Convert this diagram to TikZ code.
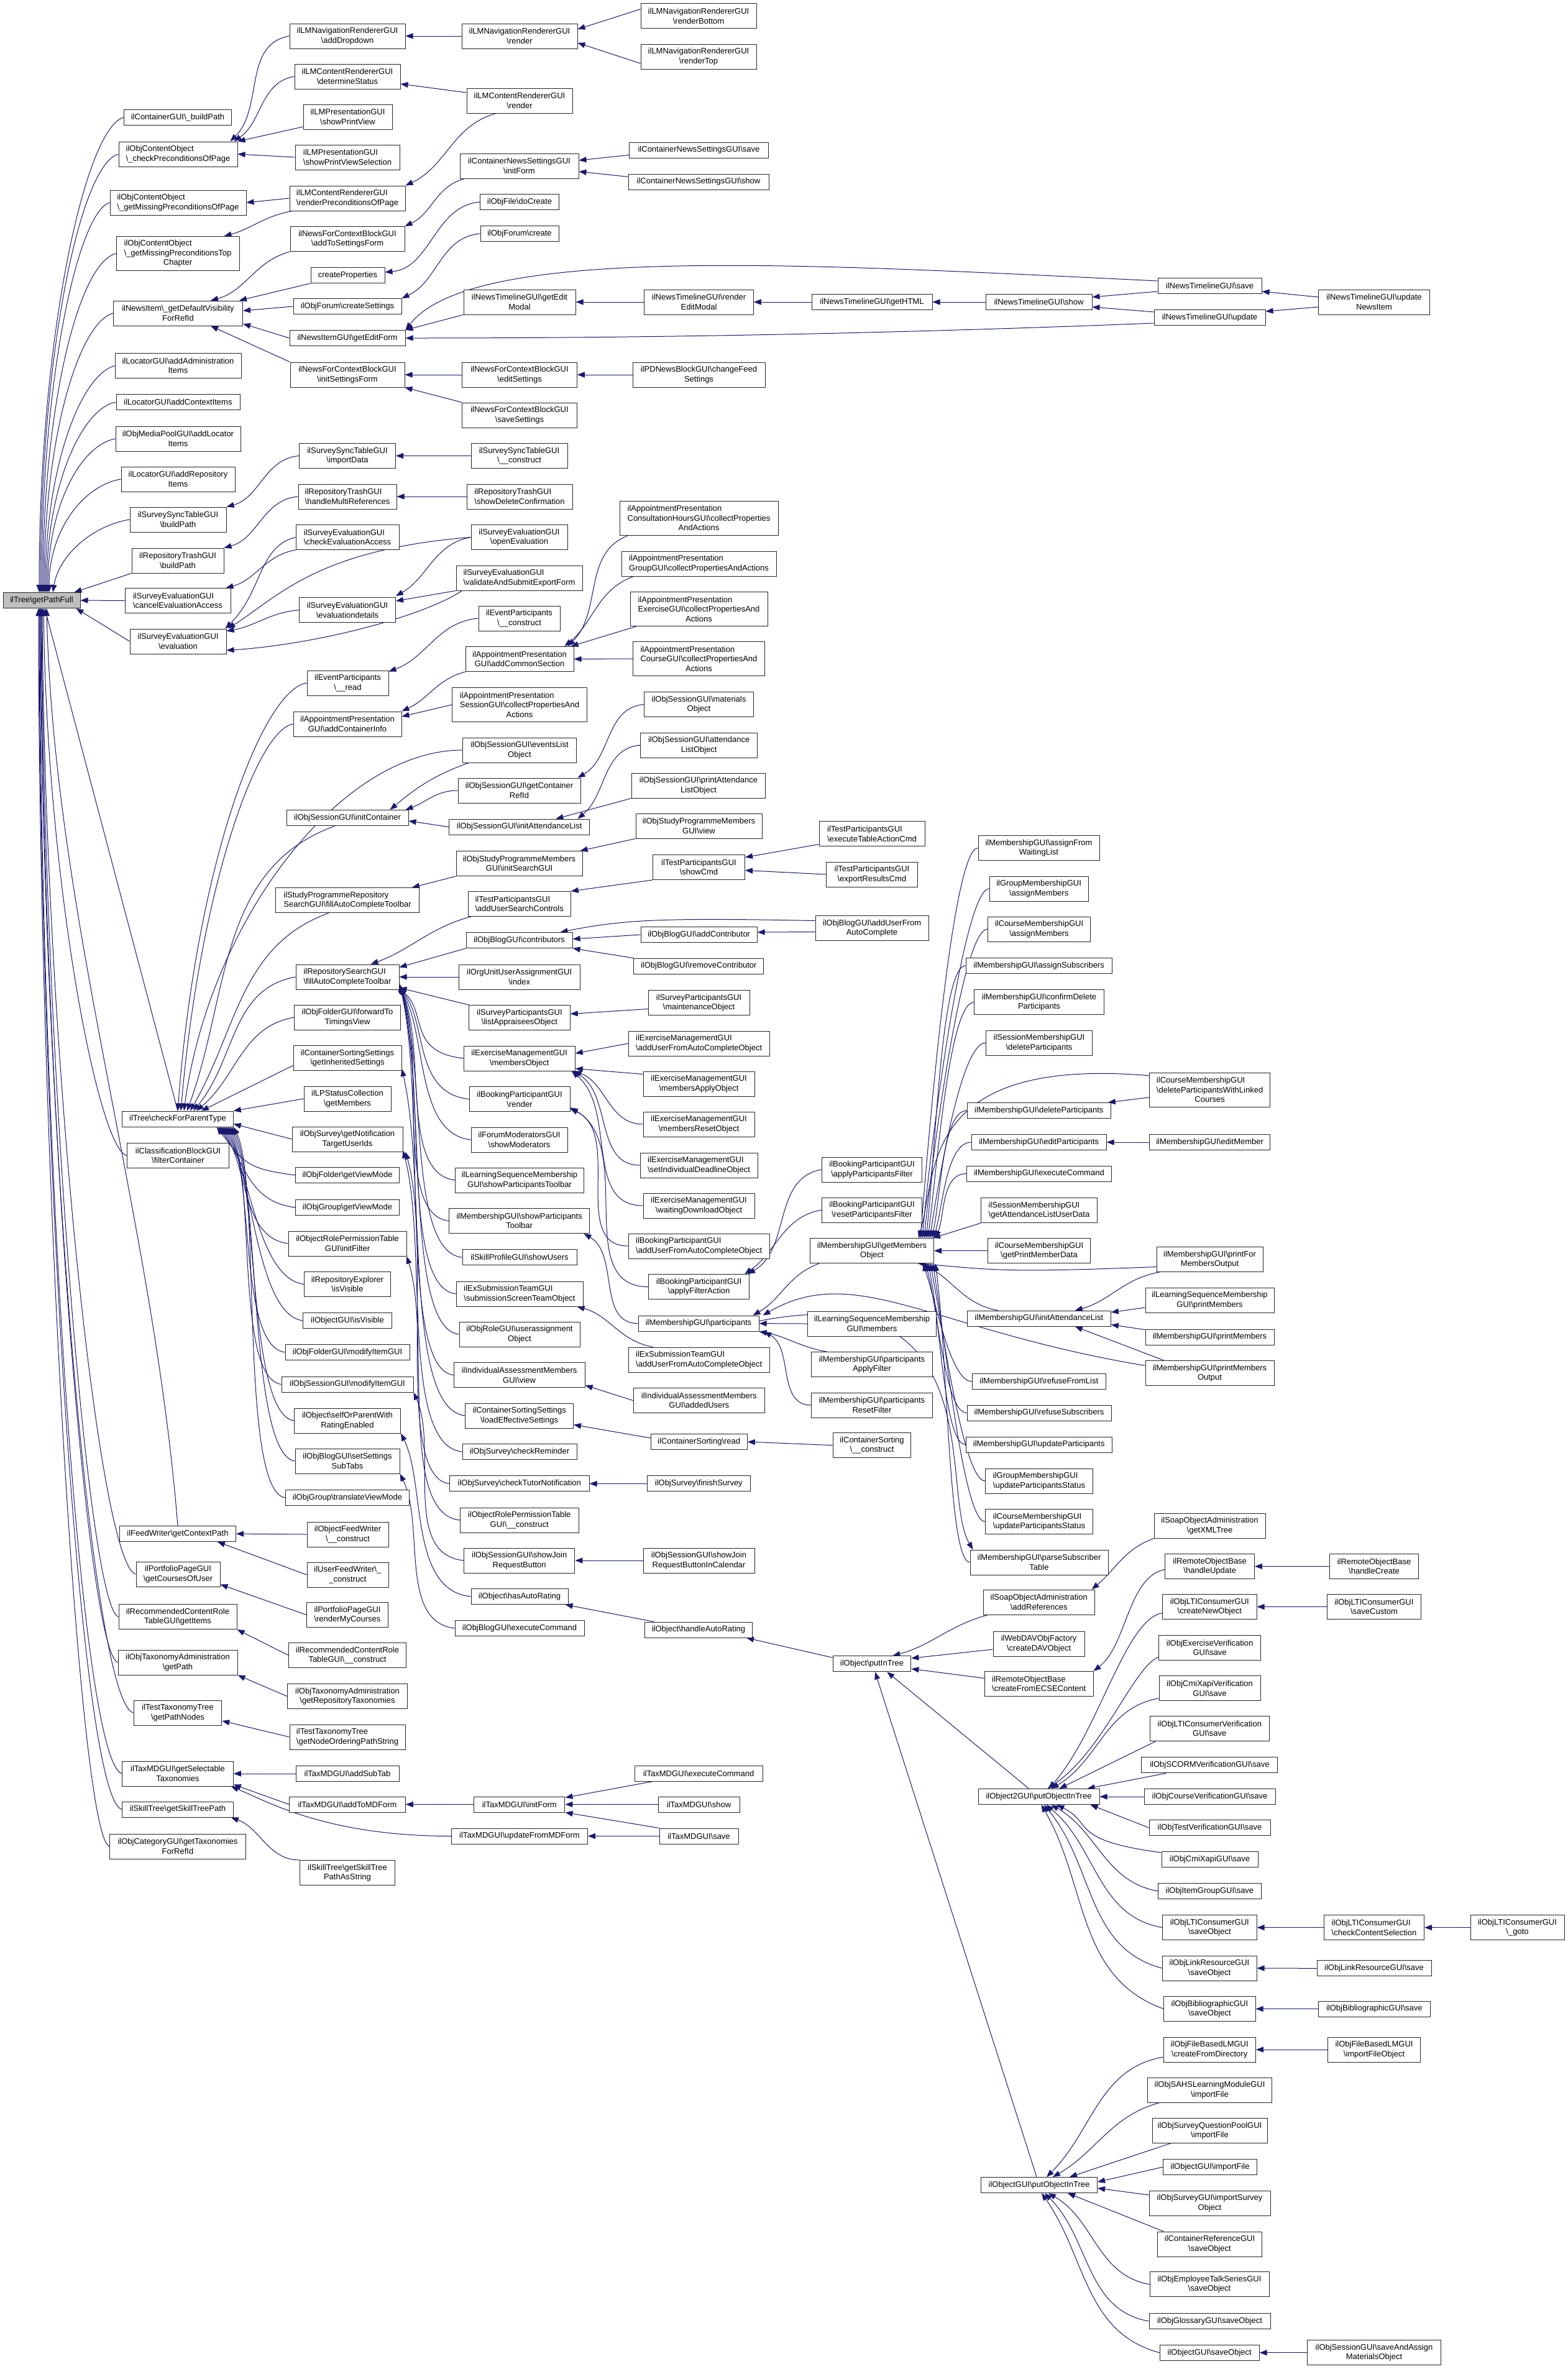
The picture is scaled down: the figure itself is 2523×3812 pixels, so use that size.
\documentclass[tikz,border=0pt]{standalone}
\usepackage{fontspec}
\setmainfont{Liberation Sans}
\usepackage{calc}
\usetikzlibrary{arrows.meta}
\definecolor{mblue}{HTML}{191970}
\definecolor{rootgray}{HTML}{BFBFBF}
\newcommand\bsl{\textbackslash}
\newcommand\lftl[2]{\makebox[\widthof{#2}][l]{#1}\\#2}
\newcommand\nodefont{\fontsize{13}{15.5}\selectfont}
\newcommand\ND[6]{\node[nd,#1,minimum width=#2pt] (#3) at (#4,#5) {#6};}
\newcommand\ED[2]{\draw[e] (#1.west) -- (#2.east);}
\pgfdeclarelayer{bg}
\pgfsetlayers{bg,main}
\tikzset{
 nd/.style={draw=black!85, line width=1pt, fill=white, font=\nodefont, inner xsep=1pt, inner ysep=0pt, align=center, minimum height=25pt, text=black},
 L2/.style={minimum height=40pt},
 L3/.style={minimum height=55pt},
 e/.style={draw=mblue, line width=1pt, -{Triangle[length=12pt,width=9pt]}},
}
\begin{document}
\begin{tikzpicture}[x=1pt,y=-1pt]
\useasboundingbox (0,0) rectangle (2523,3812);
% ---------- column 0
\ND{fill=rootgray}{124}{R}{67}{966}{ilTree\bsl getPathFull}
% ---------- column 1
\ND{}{173}{c1a}{286}{189}{ilContainerGUI\bsl\_buildPath}
\ND{L2}{191}{c1b}{286.5}{248}{\lftl{ilObjContentObject}{\bsl\_checkPreconditionsOfPage}}
\ND{L2}{219}{c1c}{286.5}{326}{\lftl{ilObjContentObject}{\bsl\_getMissingPreconditionsOfPage}}
\ND{L3}{198}{c1d}{286}{408}{\lftl{ilObjContentObject}{\bsl\_getMissingPreconditionsTop}\\Chapter}
\ND{L2}{208}{c1e}{286.5}{504}{ilNewsItem\bsl\_getDefaultVisibility\\ForRefId}
\ND{L2}{203}{c1f}{286.5}{588.5}{ilLocatorGUI\bsl addAdministration\\Items}
\ND{}{199}{c1g}{286.5}{647}{ilLocatorGUI\bsl addContextItems}
\ND{L2}{201}{c1h}{286.5}{706}{ilObjMediaPoolGUI\bsl addLocator\\Items}
\ND{L2}{183}{c1i}{286.5}{771}{ilLocatorGUI\bsl addRepository\\Items}
\ND{L2}{155}{c1j}{286.5}{836}{ilSurveySyncTableGUI\\\bsl buildPath}
\ND{L2}{148}{c1k}{286}{902}{ilRepositoryTrashGUI\\\bsl buildPath}
\ND{L2}{170}{c1l}{286}{966.5}{\lftl{ilSurveyEvaluationGUI}{\bsl cancelEvaluationAccess}}
\ND{L2}{155}{c1m}{286.5}{1032}{ilSurveyEvaluationGUI\\\bsl evaluation}
\ND{}{178.5}{c1n}{286}{1800.5}{ilTree\bsl checkForParentType}
\ND{L2}{164}{c1o}{286.5}{1859.5}{ilClassificationBlockGUI\\\bsl filterContainer}
\ND{}{187}{c1p}{286}{2468}{ilFeedWriter\bsl getContextPath}
\ND{L2}{135}{c1q}{286.5}{2533}{ilPortfolioPageGUI\\\bsl getCoursesOfUser}
\ND{L2}{190}{c1r}{286}{2601.5}{ilRecommendedContentRole\\TableGUI\bsl getItems}
\ND{L2}{192}{c1s}{286}{2675}{ilObjTaxonomyAdministration\\\bsl getPath}
\ND{L2}{141.6}{c1t}{286}{2756}{ilTestTaxonomyTree\\\bsl getPathNodes}
\ND{L2}{178.5}{c1u}{286}{2854}{ilTaxMDGUI\bsl getSelectable\\Taxonomies}
\ND{}{178.5}{c1v}{286}{2911.5}{ilSkillTree\bsl getSkillTreePath}
\ND{L2}{219}{c1w}{286}{2971}{ilObjCategoryGUI\bsl getTaxonomies\\ForRefId}
% ---------- column 2
\ND{L2}{186}{c2a}{559}{58}{ilLMNavigationRendererGUI\\\bsl addDropdown}
\ND{L2}{170}{c2b}{559}{123}{ilLMContentRendererGUI\\\bsl determineStatus}
\ND{L2}{143}{c2c}{559.5}{188}{ilLMPresentationGUI\\\bsl showPrintView}
\ND{L2}{168}{c2d}{559}{253}{\lftl{ilLMPresentationGUI}{\bsl showPrintViewSelection}}
\ND{L2}{186}{c2e}{559}{319}{\lftl{ilLMContentRendererGUI}{\bsl renderPreconditionsOfPage}}
\ND{L2}{184}{c2f}{559}{384.5}{ilNewsForContextBlockGUI\\\bsl addToSettingsForm}
\ND{}{119}{c2g}{559.5}{443}{createProperties}
\ND{}{174}{c2h}{559}{493}{ilObjForum\bsl createSettings}
\ND{}{186}{c2i}{559}{544}{ilNewsItemGUI\bsl getEditForm}
\ND{L2}{184}{c2j}{559}{603}{ilNewsForContextBlockGUI\\\bsl initSettingsForm}
\ND{L2}{155}{c2k}{559}{733.5}{ilSurveySyncTableGUI\\\bsl importData}
\ND{L2}{158}{c2l}{559}{799}{\lftl{ilRepositoryTrashGUI}{\bsl handleMultiReferences}}
\ND{L2}{166}{c2m}{559}{864.5}{\lftl{ilSurveyEvaluationGUI}{\bsl checkEvaluationAccess}}
\ND{L2}{155}{c2n}{559}{981.6}{ilSurveyEvaluationGUI\\\bsl evaluationdetails}
\ND{L2}{131}{c2o}{559.5}{1099}{ilEventParticipants\\\bsl\_\_read}
\ND{L2}{174}{c2p}{559}{1165}{ilAppointmentPresentation\\GUI\bsl addContainerInfo}
\ND{}{196}{c2q}{559}{1316}{ilObjSessionGUI\bsl initContainer}
\ND{L2}{231}{c2r}{559}{1448.6}{\lftl{ilStudyProgrammeRepository}{SearchGUI\bsl fillAutoCompleteToolbar}}
\ND{L2}{166}{c2s}{559}{1572}{\lftl{ilRepositorySearchGUI}{\bsl fillAutoCompleteToolbar}}
\ND{L2}{171}{c2t}{559}{1637}{ilObjFolderGUI\bsl forwardTo\\TimingsView}
\ND{L2}{174}{c2u}{559}{1702.5}{ilContainerSortingSettings\\\bsl getInheritedSettings}
\ND{L2}{140}{c2v}{559}{1768}{ilLPStatusCollection\\\bsl getMembers}
\ND{L2}{178}{c2w}{559}{1833}{ilObjSurvey\bsl getNotification\\TargetUserIds}
\ND{}{167}{c2x}{559}{1891}{ilObjFolder\bsl getViewMode}
\ND{}{167}{c2y}{559}{1943}{ilObjGroup\bsl getViewMode}
\ND{L2}{190}{c2z}{559}{2001}{ilObjectRolePermissionTable\\GUI\bsl initFilter}
\ND{L2}{139}{c2A}{559}{2066.5}{ilRepositoryExplorer\\\bsl isVisible}
\ND{}{143}{c2B}{559}{2125}{ilObjectGUI\bsl isVisible}
\ND{}{200}{c2C}{559}{2176}{ilObjFolderGUI\bsl modifyItemGUI}
\ND{}{212}{c2D}{559}{2227.5}{ilObjSessionGUI\bsl modifyItemGUI}
\ND{L2}{171}{c2E}{559}{2286}{ilObject\bsl selfOrParentWith\\RatingEnabled}
\ND{L2}{168}{c2F}{559}{2351}{ilObjBlogGUI\bsl setSettings\\SubTabs}
\ND{}{199}{c2G}{559}{2410}{ilObjGroup\bsl translateViewMode}
\ND{L2}{131}{c2H}{559.5}{2469}{ilObjectFeedWriter\\\bsl\_\_construct}
\ND{L2}{131}{c2I}{559.5}{2534}{ilUserFeedWriter\bsl\_\\\_construct}
\ND{L2}{131}{c2J}{559}{2598.5}{ilPortfolioPageGUI\\\bsl renderMyCourses}
\ND{L2}{189}{c2K}{559}{2663.5}{ilRecommendedContentRole\\TableGUI\bsl\_\_construct}
\ND{L2}{193}{c2L}{559}{2729.5}{ilObjTaxonomyAdministration\\\bsl getRepositoryTaxonomies}
\ND{L2}{186}{c2M}{559}{2795}{\lftl{ilTestTaxonomyTree}{\bsl getNodeOrderingPathString}}
\ND{}{166}{c2N}{559}{2854}{ilTaxMDGUI\bsl addSubTab}
\ND{}{186.6}{c2O}{559}{2903.5}{ilTaxMDGUI\bsl addToMDForm}
\ND{L2}{152.6}{c2P}{559}{3013.5}{ilSkillTree\bsl getSkillTree\\PathAsString}
% ---------- column 3
\ND{L2}{186}{c3a}{836}{58}{ilLMNavigationRendererGUI\\\bsl render}
\ND{L2}{170}{c3b}{836}{162}{ilLMContentRendererGUI\\\bsl render}
\ND{L2}{191}{c3c}{835.5}{267}{ilContainerNewsSettingsGUI\\\bsl initForm}
\ND{}{126.5}{c3d}{836}{325}{ilObjFile\bsl doCreate}
\ND{}{126}{c3e}{836}{376}{ilObjForum\bsl create}
\ND{L2}{180}{c3f}{836}{486}{ilNewsTimelineGUI\bsl getEdit\\Modal}
\ND{L2}{184.5}{c3g}{836}{603}{ilNewsForContextBlockGUI\\\bsl editSettings}
\ND{L2}{184.5}{c3h}{836}{668}{ilNewsForContextBlockGUI\\\bsl saveSettings}
\ND{L2}{155}{c3i}{835.5}{733.5}{ilSurveySyncTableGUI\\\bsl\_\_construct}
\ND{L2}{170}{c3j}{836}{799}{\lftl{ilRepositoryTrashGUI}{\bsl showDeleteConfirmation}}
\ND{L2}{155}{c3k}{835.5}{864.5}{ilSurveyEvaluationGUI\\\bsl openEvaluation}
\ND{L2}{203}{c3l}{835.5}{930}{\lftl{ilSurveyEvaluationGUI}{\bsl validateAndSubmitExportForm}}
\ND{L2}{131}{c3m}{835.5}{995}{ilEventParticipants\\\bsl\_\_construct}
\ND{L2}{174}{c3n}{836}{1060.5}{ilAppointmentPresentation\\GUI\bsl addCommonSection}
\ND{L3}{217}{c3o}{836}{1134}{\lftl{ilAppointmentPresentation}{SessionGUI\bsl collectPropertiesAnd}\\Actions}
\ND{L2}{183}{c3p}{836}{1207}{ilObjSessionGUI\bsl eventsList\\Object}
\ND{L2}{197}{c3q}{835.5}{1272}{ilObjSessionGUI\bsl getContainer\\RefId}
\ND{}{226.5}{c3r}{835.7}{1330.6}{ilObjSessionGUI\bsl initAttendanceList}
\ND{L2}{203}{c3s}{835.5}{1389.5}{ilObjStudyProgrammeMembers\\GUI\bsl initSearchGUI}
\ND{L2}{165}{c3t}{835.7}{1454.5}{\lftl{ilTestParticipantsGUI}{\bsl addUserSearchControls}}
\ND{}{171}{c3u}{835.6}{1513}{ilObjBlogGUI\bsl contributors}
\ND{L2}{195}{c3v}{835.7}{1572}{ilOrgUnitUserAssignmentGUI\\\bsl index}
\ND{L2}{162.4}{c3w}{836}{1637.5}{ilSurveyParticipantsGUI\\\bsl listAppraiseesObject}
\ND{L2}{179}{c3x}{835.7}{1703}{ilExerciseManagementGUI\\\bsl membersObject}
\ND{L2}{162}{c3y}{836}{1768.6}{ilBookingParticipantGUI\\\bsl render}
\ND{L2}{155}{c3z}{835.5}{1834}{ilForumModeratorsGUI\\\bsl showModerators}
\ND{L2}{206.5}{c3A}{836}{1899}{ilLearningSequenceMembership\\GUI\bsl showParticipantsToolbar}
\ND{L2}{226.5}{c3B}{835.7}{1964.5}{ilMembershipGUI\bsl showParticipants\\Toolbar}
\ND{}{184}{c3C}{836}{2023.3}{ilSkillProfileGUI\bsl showUsers}
\ND{L2}{204}{c3D}{836}{2082}{\lftl{ilExSubmissionTeamGUI}{\bsl submissionScreenTeamObject}}
\ND{L2}{194}{c3E}{836}{2147}{ilObjRoleGUI\bsl userassignment\\Object}
\ND{L2}{211}{c3F}{835.6}{2212.6}{ilIndividualAssessmentMembers\\GUI\bsl view}
\ND{L2}{173.5}{c3G}{835.7}{2278}{ilContainerSortingSettings\\\bsl loadEffectiveSettings}
\ND{}{184}{c3H}{836}{2336}{ilObjSurvey\bsl checkReminder}
\ND{}{224.5}{c3I}{835.8}{2387.4}{ilObjSurvey\bsl checkTutorNotification}
\ND{L2}{190.6}{c3J}{835.7}{2446}{ilObjectRolePermissionTable\\GUI\bsl\_\_construct}
\ND{L2}{178.4}{c3K}{835.7}{2511}{ilObjSessionGUI\bsl showJoin\\RequestButton}
\ND{}{156}{c3L}{836}{2569}{ilObject\bsl hasAutoRating}
\ND{}{208}{c3M}{836}{2620}{ilObjBlogGUI\bsl executeCommand}
\ND{}{146.5}{c3N}{835.7}{2903.5}{ilTaxMDGUI\bsl initForm}
\ND{}{219}{c3O}{836}{2954.5}{ilTaxMDGUI\bsl updateFromMDForm}
% ---------- column 4
\ND{L2}{186}{c4a}{1124}{25.7}{ilLMNavigationRendererGUI\\\bsl renderBottom}
\ND{L2}{186}{c4b}{1124}{91}{ilLMNavigationRendererGUI\\\bsl renderTop}
\ND{}{224}{c4c}{1124.5}{241.5}{ilContainerNewsSettingsGUI\bsl save}
\ND{}{226}{c4d}{1124}{292.5}{ilContainerNewsSettingsGUI\bsl show}
\ND{L2}{175.5}{c4e}{1124.5}{486}{ilNewsTimelineGUI\bsl render\\EditModal}
\ND{L2}{213}{c4f}{1124.5}{603}{ilPDNewsBlockGUI\bsl changeFeed\\Settings}
\ND{L3}{255}{c4g}{1124.5}{833.5}{\lftl{ilAppointmentPresentation}{ConsultationHoursGUI\bsl collectProperties}\\AndActions}
\ND{L2}{249}{c4h}{1124.5}{907}{\lftl{ilAppointmentPresentation}{GroupGUI\bsl collectPropertiesAndActions}}
\ND{L3}{221}{c4i}{1124.5}{980}{\lftl{ilAppointmentPresentation}{ExerciseGUI\bsl collectPropertiesAnd}\\Actions}
\ND{L3}{212}{c4j}{1124.5}{1060}{\lftl{ilAppointmentPresentation}{CourseGUI\bsl collectPropertiesAnd}\\Actions}
\ND{L2}{176}{c4k}{1124.5}{1133.5}{ilObjSessionGUI\bsl materials\\Object}
\ND{L2}{188}{c4l}{1124.7}{1199}{ilObjSessionGUI\bsl attendance\\ListObject}
\ND{L2}{215}{c4m}{1124}{1264}{ilObjSessionGUI\bsl printAttendance\\ListObject}
\ND{L2}{203}{c4n}{1124.5}{1329}{ilObjStudyProgrammeMembers\\GUI\bsl view}
\ND{L2}{148}{c4o}{1124.5}{1395.5}{ilTestParticipantsGUI\\\bsl showCmd}
\ND{}{187}{c4p}{1124.7}{1504}{ilObjBlogGUI\bsl addContributor}
\ND{}{209}{c4q}{1124.3}{1554.6}{ilObjBlogGUI\bsl removeContributor}
\ND{L2}{163}{c4r}{1124.5}{1613.5}{ilSurveyParticipantsGUI\\\bsl maintenanceObject}
\ND{L2}{227}{c4s}{1124.7}{1679}{\lftl{ilExerciseManagementGUI}{\bsl addUserFromAutoCompleteObject}}
\ND{L2}{179}{c4t}{1124.5}{1744}{ilExerciseManagementGUI\\\bsl membersApplyObject}
\ND{L2}{179}{c4u}{1124.5}{1809}{ilExerciseManagementGUI\\\bsl membersResetObject}
\ND{L2}{189}{c4v}{1124.5}{1875}{\lftl{ilExerciseManagementGUI}{\bsl setIndividualDeadlineObject}}
\ND{L2}{179}{c4w}{1124.5}{1940}{ilExerciseManagementGUI\\\bsl waitingDownloadObject}
\ND{L2}{227}{c4x}{1124.7}{2005}{\lftl{ilBookingParticipantGUI}{\bsl addUserFromAutoCompleteObject}}
\ND{L2}{162.5}{c4y}{1124.5}{2070.6}{ilBookingParticipantGUI\\\bsl applyFilterAction}
\ND{}{194}{c4z}{1124}{2129.6}{ilMembershipGUI\bsl participants}
\ND{L2}{227}{c4A}{1124.7}{2188}{\lftl{ilExSubmissionTeamGUI}{\bsl addUserFromAutoCompleteObject}}
\ND{L2}{211.4}{c4B}{1124.8}{2253.5}{ilIndividualAssessmentMembers\\GUI\bsl addedUsers}
\ND{}{155}{c4C}{1124.7}{2320}{ilContainerSorting\bsl read}
\ND{}{165.7}{c4D}{1124.3}{2387.4}{ilObjSurvey\bsl finishSurvey}
\ND{L2}{179}{c4E}{1124.5}{2511}{ilObjSessionGUI\bsl showJoin\\RequestButtonInCalendar}
\ND{}{173}{c4F}{1124}{2622.5}{ilObject\bsl handleAutoRating}
\ND{}{206}{c4G}{1124}{2853.5}{ilTaxMDGUI\bsl executeCommand}
\ND{}{131}{c4H}{1124.5}{2903.5}{ilTaxMDGUI\bsl show}
\ND{}{127}{c4I}{1124.5}{2954.5}{ilTaxMDGUI\bsl save}
% ---------- column 5
\ND{}{194}{c5a}{1403}{486}{ilNewsTimelineGUI\bsl getHTML}
\ND{L2}{170}{c5b}{1403}{1341.6}{\lftl{ilTestParticipantsGUI}{\bsl executeTableActionCmd}}
\ND{L2}{147.4}{c5c}{1403}{1407}{ilTestParticipantsGUI\\\bsl exportResultsCmd}
\ND{L2}{182}{c5d}{1403}{1493.5}{ilObjBlogGUI\bsl addUserFrom\\AutoComplete}
\ND{L2}{161.6}{c5e}{1403}{1882}{ilBookingParticipantGUI\\\bsl applyParticipantsFilter}
\ND{L2}{161.6}{c5f}{1403}{1947}{ilBookingParticipantGUI\\\bsl resetParticipantsFilter}
\ND{L2}{199}{c5g}{1403}{2012.6}{ilMembershipGUI\bsl getMembers\\Object}
\ND{L2}{207}{c5h}{1403}{2130}{ilLearningSequenceMembership\\GUI\bsl members}
\ND{L2}{194.7}{c5i}{1403}{2195.5}{ilMembershipGUI\bsl participants\\ApplyFilter}
\ND{L2}{194.7}{c5j}{1403}{2261}{ilMembershipGUI\bsl participants\\ResetFilter}
\ND{L2}{125.7}{c5k}{1403}{2325.6}{ilContainerSorting\\\bsl\_\_construct}
\ND{}{125.7}{c5l}{1403}{2677.3}{ilObject\bsl putInTree}
% ---------- column 6
\ND{}{171}{c6a}{1671.5}{486}{ilNewsTimelineGUI\bsl show}
\ND{L2}{195}{c6b}{1671.5}{1364.5}{ilMembershipGUI\bsl assignFrom\\WaitingList}
\ND{L2}{159}{c6c}{1671.6}{1430}{ilGroupMembershipGUI\\\bsl assignMembers}
\ND{L2}{165}{c6d}{1672}{1495}{ilCourseMembershipGUI\\\bsl assignMembers}
\ND{}{235}{c6e}{1671.7}{1553.7}{ilMembershipGUI\bsl assignSubscribers}
\ND{L2}{208.5}{c6f}{1672}{1612.7}{ilMembershipGUI\bsl confirmDelete\\Participants}
\ND{L2}{171}{c6g}{1672}{1678}{ilSessionMembershipGUI\\\bsl deleteParticipants}
\ND{}{231}{c6h}{1671.8}{1787}{ilMembershipGUI\bsl deleteParticipants}
\ND{}{217}{c6i}{1671.7}{1838}{ilMembershipGUI\bsl editParticipants}
\ND{}{233.5}{c6j}{1672}{1888.6}{ilMembershipGUI\bsl executeCommand}
\ND{L2}{187}{c6k}{1672}{1947.6}{\lftl{ilSessionMembershipGUI}{\bsl getAttendanceListUserData}}
\ND{L2}{165}{c6l}{1672}{2012.6}{ilCourseMembershipGUI\\\bsl getPrintMemberData}
\ND{}{231}{c6m}{1671.8}{2121.6}{ilMembershipGUI\bsl initAttendanceList}
\ND{}{214.7}{c6n}{1671.8}{2223}{ilMembershipGUI\bsl refuseFromList}
\ND{}{232}{c6o}{1672}{2273.5}{ilMembershipGUI\bsl refuseSubscribers}
\ND{}{235}{c6p}{1671.7}{2324.5}{ilMembershipGUI\bsl updateParticipants}
\ND{L2}{172.7}{c6q}{1672}{2383}{\lftl{ilGroupMembershipGUI}{\bsl updateParticipantsStatus}}
\ND{L2}{172.7}{c6r}{1672}{2448.6}{\lftl{ilCourseMembershipGUI}{\bsl updateParticipantsStatus}}
\ND{L2}{222}{c6s}{1672}{2514}{ilMembershipGUI\bsl parseSubscriber\\Table}
\ND{L2}{179}{c6t}{1671.7}{2578}{ilSoapObjectAdministration\\\bsl addReferences}
\ND{L2}{147}{c6u}{1671.6}{2645}{ilWebDAVObjFactory\\\bsl createDAVObject}
\ND{L2}{174.7}{c6v}{1671.7}{2709.5}{\lftl{ilRemoteObjectBase}{\bsl createFromECSEContent}}
\ND{}{195}{c6w}{1671.5}{2891}{ilObject2GUI\bsl putObjectInTree}
\ND{}{187}{c6x}{1672}{3516}{ilObjectGUI\bsl putObjectInTree}
% ---------- column 7
\ND{}{167}{c7a}{1946.5}{460}{ilNewsTimelineGUI\bsl save}
\ND{}{179}{c7b}{1946.5}{511}{ilNewsTimelineGUI\bsl update}
\ND{L3}{194.4}{c7c}{1946.6}{1753.8}{\lftl{ilCourseMembershipGUI}{\bsl deleteParticipantsWithLinked}\\Courses}
\ND{}{194.4}{c7d}{1946.6}{1838}{ilMembershipGUI\bsl editMember}
\ND{L2}{171}{c7e}{1946.5}{2026.5}{ilMembershipGUI\bsl printFor\\MembersOutput}
\ND{L2}{207}{c7f}{1946.5}{2092}{ilLearningSequenceMembership\\GUI\bsl printMembers}
\ND{}{207}{c7g}{1946.5}{2151.6}{ilMembershipGUI\bsl printMembers}
\ND{L2}{207}{c7h}{1946.5}{2209.4}{ilMembershipGUI\bsl printMembers\\Output}
\ND{L2}{179}{c7i}{1946.5}{2455}{ilSoapObjectAdministration\\\bsl getXMLTree}
\ND{L2}{143.5}{c7j}{1946.7}{2520.4}{ilRemoteObjectBase\\\bsl handleUpdate}
\ND{L2}{151.4}{c7k}{1946.3}{2585.5}{ilObjLTIConsumerGUI\\\bsl createNewObject}
\ND{L2}{164}{c7l}{1946.6}{2651.5}{ilObjExerciseVerification\\GUI\bsl save}
\ND{L2}{163}{c7m}{1946.5}{2716.8}{ilObjCmiXapiVerification\\GUI\bsl save}
\ND{L2}{192.6}{c7n}{1946.3}{2781.5}{ilObjLTIConsumerVerification\\GUI\bsl save}
\ND{}{219}{c7o}{1946.4}{2840.3}{ilObjSCORMVerificationGUI\bsl save}
\ND{}{211}{c7p}{1946.5}{2891}{ilObjCourseVerificationGUI\bsl save}
\ND{}{195}{c7q}{1946.5}{2941}{ilObjTestVerificationGUI\bsl save}
\ND{}{155}{c7r}{1946.5}{2992}{ilObjCmiXapiGUI\bsl save}
\ND{}{165.5}{c7s}{1946.4}{3043}{ilObjItemGroupGUI\bsl save}
\ND{L2}{151.4}{c7t}{1946.3}{3101.6}{ilObjLTIConsumerGUI\\\bsl saveObject}
\ND{L2}{152}{c7u}{1946}{3167}{ilObjLinkResourceGUI\\\bsl saveObject}
\ND{L2}{147.3}{c7v}{1946.4}{3232.5}{ilObjBibliographicGUI\\\bsl saveObject}
\ND{L2}{148.4}{c7w}{1946.2}{3298}{ilObjFileBasedLMGUI\\\bsl createFromDirectory}
\ND{L2}{200}{c7x}{1946.5}{3363}{ilObjSAHSLearningModuleGUI\\\bsl importFile}
\ND{L2}{185}{c7y}{1946.5}{3428.4}{ilObjSurveyQuestionPoolGUI\\\bsl importFile}
\ND{}{151}{c7z}{1947}{3487}{ilObjectGUI\bsl importFile}
\ND{L2}{195}{c7A}{1946.5}{3545}{ilObjSurveyGUI\bsl importSurvey\\Object}
\ND{L2}{168}{c7B}{1946.5}{3611}{ilContainerReferenceGUI\\\bsl saveObject}
\ND{L2}{192}{c7C}{1946}{3675.7}{ilObjEmployeeTalkSeriesGUI\\\bsl saveObject}
\ND{}{195}{c7D}{1946.5}{3735}{ilObjGlossaryGUI\bsl saveObject}
\ND{}{160}{c7E}{1946.2}{3785.7}{ilObjectGUI\bsl saveObject}
% ---------- column 8 / 9
\ND{L2}{179}{c8a}{2211}{486}{ilNewsTimelineGUI\bsl update\\NewsItem}
\ND{L2}{143}{c8b}{2211}{2520.4}{ilRemoteObjectBase\\\bsl handleCreate}
\ND{L2}{151.4}{c8c}{2211}{2585.5}{ilObjLTIConsumerGUI\\\bsl saveCustom}
\ND{L2}{161.3}{c8d}{2211}{3101.6}{\lftl{ilObjLTIConsumerGUI}{\bsl checkContentSelection}}
\ND{}{184}{c8e}{2211}{3167.3}{ilObjLinkResourceGUI\bsl save}
\ND{}{180}{c8f}{2211.3}{3232.5}{ilObjBibliographicGUI\bsl save}
\ND{L2}{148.6}{c8g}{2211}{3298}{ilObjFileBasedLMGUI\\\bsl importFileObject}
\ND{L2}{215}{c8h}{2211}{3785.7}{ilObjSessionGUI\bsl saveAndAssign\\MaterialsObject}
\ND{L2}{151}{c9a}{2441.5}{3101.6}{ilObjLTIConsumerGUI\\\bsl\_goto}

\begin{pgfonlayer}{bg}
% ===== into root
\draw[e] (c1a.west) .. controls +(-60,15) and +(0,-420) .. ([xshift=-4pt]R.north);
\draw[e] (c1b.west) .. controls +(-60,15) and +(0,-390) .. ([xshift=-2pt]R.north);
\draw[e] (c1c.west) .. controls +(-50,15) and +(0,-350) .. ([xshift=0pt]R.north);
\draw[e] (c1d.west) .. controls +(-60,15) and +(0,-300) .. ([xshift=2pt]R.north);
\draw[e] (c1e.west) .. controls +(-55,15) and +(0,-250) .. ([xshift=4pt]R.north);
\draw[e] (c1f.west) .. controls +(-55,15) and +(0,-200) .. ([xshift=6pt]R.north);
\draw[e] (c1g.west) .. controls +(-55,10) and +(0,-170) .. ([xshift=8pt]R.north);
\draw[e] (c1h.west) .. controls +(-55,10) and +(0,-140) .. ([xshift=10pt]R.north);
\draw[e] (c1i.west) .. controls +(-60,10) and +(0,-100) .. ([xshift=12pt]R.north);
\draw[e] (c1j.west) .. controls +(-60,10) and +(10,-60) .. ([xshift=18pt]R.north);
\draw[e] (c1k.south west) -- ([xshift=-10pt]R.north east);
\draw[e] (c1l.west) -- (R.east);
\draw[e] (c1m.west) -- ([xshift=-7pt]R.south east);
\draw[e] (c1n.north) -- ([xshift=5pt]R.south);
\draw[e] (c1o.west) .. controls +(-45,-10) and +(6,450) .. ([xshift=3pt]R.south);
\draw[e] (c1p.north) .. controls +(-40,-500) and +(12,500) .. ([xshift=8pt]R.south);
\draw[e] (c1q.west) .. controls +(-60,-15) and +(4,700) .. ([xshift=1pt]R.south);
\draw[e] (c1r.west) .. controls +(-50,-15) and +(3,700) .. ([xshift=0pt]R.south);
\draw[e] (c1s.west) .. controls +(-50,-15) and +(2,750) .. ([xshift=-1pt]R.south);
\draw[e] (c1t.west) .. controls +(-70,-15) and +(1,750) .. ([xshift=-2pt]R.south);
\draw[e] (c1u.west) .. controls +(-70,-20) and +(0,800) .. ([xshift=-3pt]R.south);
\draw[e] (c1v.west) .. controls +(-70,-15) and +(0,800) .. ([xshift=-4pt]R.south);
\draw[e] (c1w.west) .. controls +(-50,-15) and +(0,850) .. ([xshift=-5pt]R.south);
% ===== into column 1
\draw[e] (c2a.west) to[out=190,in=45] ([xshift=-12pt]c1b.north east);
\draw[e] (c2b.west) to[out=190,in=35] ([xshift=-6pt]c1b.north east);
\draw[e] ([yshift=-16pt]c2c.west) -- (c1b.north east);
\draw[e] (c2d.west) -- (c1b.east);
\draw[e] (c2e.west) -- (c1c.east);
\draw[e] ([xshift=5pt]c2e.south west) to[out=190,in=15] ([xshift=-25pt]c1d.north east);
\draw[e] (c2f.south west) to[out=195,in=15] ([xshift=-52pt]c1e.north east);
\draw[e] (c2g.south west) -- ([xshift=-6pt]c1e.north east);
\draw[e] (c2h.west) -- ([yshift=4pt]c1e.east);
\draw[e] (c2i.west) -- ([yshift=-17pt]c1e.east);
\draw[e] (c2j.north west) -- ([xshift=-52pt]c1e.south east);
\draw[e] (c2k.west) to[out=185,in=15] (c1j.north east);
\draw[e] (c2l.west) to[out=185,in=15] (c1k.north east);
\draw[e] (c2m.south west) to[out=190,in=15] ([xshift=-8pt]c1l.north east);
\draw[e] (c2m.west) .. controls +(-60,15) and +(60,-60) .. ([xshift=-2pt]c1m.north east);
\draw[e] (c3k.west) .. controls +(-250,20) and +(80,-50) .. ([xshift=2pt]c1m.north east);
\draw[e] (c2n.west) to[out=185,in=10] ([yshift=-4pt]c1m.north east);
\draw[e] ([xshift=10pt]c3l.south west) .. controls +(-60,40) and +(150,-10) .. ([yshift=6pt]c1m.south east);
% into checkForParentType
\draw[e] (c2o.west) .. controls +(-70,10) and +(30,-400) .. ([xshift=0pt]c1n.north);
\draw[e] (c2p.west) .. controls +(-60,10) and +(30,-350) .. ([xshift=5pt]c1n.north);
\draw[e] (c3p.west) .. controls +(-200,0) and +(40,-300) .. ([xshift=10pt]c1n.north);
\draw[e] ([xshift=-20pt]c2q.south) to[out=200,in=70] ([xshift=15pt]c1n.north);
\draw[e] ([xshift=-30pt]c2r.south) to[out=200,in=60] ([xshift=20pt]c1n.north);
\draw[e] (c2s.west) to[out=190,in=50] ([xshift=25pt]c1n.north);
\draw[e] (c2t.west) to[out=190,in=40] ([xshift=30pt]c1n.north);
\draw[e] ([yshift=-12pt]c2u.west) -- ([xshift=38pt]c1n.north);
\draw[e] (c2v.west) -- (c1n.north east);
\draw[e] (c2w.west) -- ([yshift=-8pt]c1n.east);
\draw[e] (c2x.west) .. controls +(-75,-10) and +(45,60) .. ([xshift=-27pt]c1n.south east);
\draw[e] (c2y.west) .. controls +(-75,-10) and +(45,62) .. ([xshift=-24pt]c1n.south east);
\draw[e] (c2z.west) .. controls +(-75,-10) and +(45,65) .. ([xshift=-21pt]c1n.south east);
\draw[e] (c2A.west) .. controls +(-75,-10) and +(45,68) .. ([xshift=-18pt]c1n.south east);
\draw[e] (c2B.west) .. controls +(-75,-10) and +(45,71) .. ([xshift=-15pt]c1n.south east);
\draw[e] (c2C.west) .. controls +(-75,-10) and +(45,74) .. ([xshift=-12pt]c1n.south east);
\draw[e] (c2D.west) .. controls +(-75,-10) and +(45,78) .. ([xshift=-9pt]c1n.south east);
\draw[e] (c2E.west) .. controls +(-75,-10) and +(45,82) .. ([xshift=-6pt]c1n.south east);
\draw[e] (c2F.west) .. controls +(-75,-10) and +(45,86) .. ([xshift=-3pt]c1n.south east);
\draw[e] (c2G.west) .. controls +(-75,-10) and +(45,90) .. ([xshift=0pt]c1n.south east);
\draw[e] (c2H.west) -- (c1p.east);
\draw[e] (c2I.west) -- ([xshift=-30pt]c1p.south east);
\draw[e] (c2J.west) -- ([yshift=4pt]c1q.south east);
\draw[e] (c2K.west) -- (c1r.south east);
\draw[e] (c2L.west) -- (c1s.south east);
\draw[e] (c2M.west) -- ([yshift=-13pt]c1t.east);
\draw[e] (c2N.west) -- (c1u.east);
\draw[e] (c2O.west) -- ([yshift=3pt]c1u.south east);
\draw[e] (c3O.west) .. controls +(-200,0) and +(60,25) .. ([xshift=-4pt]c1u.south east);
\draw[e] (c2P.north west) to[out=180,in=-20] ([xshift=-4pt]c1v.south east);
% ===== into column 2
\ED{c3a}{c2a}
\draw[e] ([yshift=13pt]c3b.west) -- ([yshift=-12pt]c2b.east);
\draw[e] ([xshift=48pt]c3b.south west) to[out=195,in=25] (c2e.north east);
\draw[e] ([xshift=8pt]c3c.south west) to[out=195,in=25] (c2f.north east);
\draw[e] (c3d.west) to[out=185,in=5] ([yshift=5pt]c2g.east);
\draw[e] (c3e.west) to[out=185,in=25] (c2h.north east);
\draw[e] (c3f.south west) -- (c2i.north east);
\draw[e] ([yshift=8pt]c7a.west) .. controls +(-563,-27) and +(108,-139) .. (c2i.north east);
\draw[e] ([yshift=-9pt]c7b.west) .. controls +(-500,20) and +(300,0) .. (c2i.east);
\ED{c3g}{c2j}
\draw[e] (c3h.north west) -- (c2j.south east);
\ED{c3i}{c2k}
\ED{c3j}{c2l}
\draw[e] (c3k.west) to[out=190,in=30] ([yshift=2pt]c2n.north east);
\draw[e] (c3l.south west) -- ([yshift=-6pt]c2n.north east);
\draw[e] (c3m.west) to[out=185,in=20] ([yshift=-2pt]c2o.north east);
\draw[e] (c3n.south west) to[out=195,in=25] (c2p.north east);
\draw[e] (c3o.west) -- ([yshift=12pt]c2p.east);
\draw[e] ([xshift=10pt]c3p.south west) to[out=200,in=40] ([xshift=-30pt]c2q.north east);
\draw[e] (c3q.west) to[out=180,in=20] ([xshift=-5pt]c2q.north east);
\draw[e] (c3r.west) -- ([yshift=-5pt]c2q.east);
\draw[e] (c3s.south west) -- ([xshift=-12pt]c2r.north east);
\draw[e] ([xshift=5pt]c3t.south west) to[out=195,in=20] ([xshift=-46pt]c2s.north east);
\draw[e] (c3u.south west) -- ([yshift=-5pt]c2s.north east);
\ED{c3v}{c2s}
\draw[e] (c3w.north west) -- ([yshift=3pt]c2s.south east);
\draw[e] (c3x.west) .. controls +(-90,-10) and +(45,40) .. ([yshift=2pt]c2s.south east);
\draw[e] (c3y.west) .. controls +(-90,-10) and +(45,55) .. ([yshift=3pt]c2s.south east);
\draw[e] (c3z.west) .. controls +(-90,-10) and +(45,75) .. ([yshift=4pt]c2s.south east);
\draw[e] (c3A.west) .. controls +(-90,-10) and +(45,95) .. ([yshift=5pt]c2s.south east);
\draw[e] (c3B.west) .. controls +(-90,-10) and +(45,110) .. ([yshift=6pt]c2s.south east);
\draw[e] (c3C.west) .. controls +(-90,-10) and +(45,130) .. ([yshift=7pt]c2s.south east);
\draw[e] (c3D.west) .. controls +(-90,-10) and +(45,150) .. ([yshift=8pt]c2s.south east);
\draw[e] (c3E.west) .. controls +(-90,-10) and +(45,165) .. ([yshift=9pt]c2s.south east);
\draw[e] (c3F.west) .. controls +(-90,-10) and +(45,185) .. ([yshift=10pt]c2s.south east);
\draw[e] (c3G.west) .. controls +(-100,-10) and +(40,170) .. ([yshift=3pt]c2u.south east);
\draw[e] (c3H.west) .. controls +(-100,-10) and +(40,150) .. ([yshift=2pt]c2w.south east);
\draw[e] (c3I.west) .. controls +(-90,-10) and +(45,160) .. ([xshift=4pt]c2w.south east);
\draw[e] (c3J.west) .. controls +(-100,-10) and +(40,130) .. (c2z.south east);
\draw[e] (c3K.west) .. controls +(-100,-10) and +(40,90) .. (c2D.south east);
\draw[e] (c3L.west) .. controls +(-100,-10) and +(40,80) .. (c2E.south east);
\draw[e] (c3M.west) .. controls +(-90,-10) and +(40,80) .. (c2F.south east);
\ED{c3N}{c2O}
% ===== into column 3
\draw[e] ([yshift=11pt]c4a.west) -- ([yshift=11pt]c3a.east);
\draw[e] ([yshift=-11pt]c4b.west) -- ([yshift=-11pt]c3a.east);
\draw[e] ([yshift=-8pt]c4c.west) -- ([yshift=9pt]c3c.east);
\draw[e] ([yshift=8pt]c4d.west) -- ([yshift=-9pt]c3c.east);
\ED{c4e}{c3f}
\ED{c4f}{c3g}
\draw[e] ([xshift=15pt]c4g.south west) to[out=200,in=45] ([xshift=-10pt]c3n.north east);
\draw[e] ([xshift=20pt]c4h.south west) to[out=200,in=40] ([xshift=-15pt]c3n.north east);
\draw[e] ([xshift=10pt]c4i.south west) -- ([xshift=-5pt]c3n.north east);
\ED{c4j}{c3n}
\draw[e] (c4k.west) to[out=185,in=30] ([xshift=-5pt]c3q.north east);
\draw[e] (c4l.west) to[out=185,in=40] ([xshift=-20pt]c3r.north east);
\draw[e] (c4m.south west) -- ([xshift=-55pt]c3r.north east);
\draw[e] (c4n.south west) -- ([xshift=-4pt]c3s.north east);
\draw[e] (c4o.south west) -- (c3t.north east);
\draw[e] (c4p.west) -- ([yshift=2pt]c3u.east);
\draw[e] (c4q.north west) -- (c3u.south east);
\draw[e] ([yshift=12pt]c5d.west) .. controls +(-250,-5) and +(100,-20) .. ([xshift=-20pt]c3u.north east);
\draw[e] ([yshift=-10pt]c4r.west) -- ([yshift=6pt]c3w.east);
\draw[e] (c4s.west) -- ([yshift=8pt]c3x.east);
\draw[e] ([yshift=-5pt]c4t.north west) -- ([yshift=4pt]c3x.south east);
\draw[e] (c4u.west) to[out=180,in=-20] ([xshift=-2pt]c3x.south east);
\draw[e] (c4v.west) to[out=180,in=-30] ([xshift=-4pt]c3x.south east);
\draw[e] (c4w.west) to[out=180,in=-40] ([xshift=-6pt]c3x.south east);
\draw[e] (c4x.west) to[out=180,in=-25] ([yshift=5pt]c3y.south east);
\draw[e] (c4y.west) to[out=180,in=-30] ([yshift=7pt]c3y.south east);
\draw[e] (c4z.west) to[out=180,in=-30] ([xshift=-10pt]c3B.south east);
\draw[e] ([xshift=40pt]c4A.north west) to[out=170,in=-15] ([xshift=-10pt]c3D.south east);
\draw[e] (c4B.west) -- ([yshift=4pt]c3F.south east);
\draw[e] ([yshift=6pt]c4C.west) -- ([yshift=6pt]c3G.south east);
\ED{c4D}{c3I}
\ED{c4E}{c3K}
\draw[e] ([xshift=15pt]c4F.north west) -- ([xshift=-5pt]c3L.south east);
\draw[e] ([xshift=30pt]c4G.south west) -- ([yshift=-2pt]c3N.north east);
\ED{c4H}{c3N}
\draw[e] (c4I.north west) -- (c3N.south east);
\ED{c4I}{c3O}
% ===== into column 4
\ED{c5a}{c4e}
\draw[e] ([yshift=-17pt]c5b.west) -- ([yshift=16pt]c4o.east);
\draw[e] (c5c.west) -- ([yshift=-5pt]c4o.east);
\draw[e] ([yshift=-6pt]c5d.west) -- ([yshift=4pt]c4p.east);
\draw[e] (c5e.west) to[out=190,in=30] ([xshift=-3pt]c4y.north east);
\draw[e] (c5f.west) to[out=190,in=35] ([xshift=-8pt]c4y.north east);
\draw[e] ([xshift=15pt]c5g.south west) to[out=200,in=30] ([xshift=-10pt]c4z.north east);
\draw[e] ([yshift=12pt]c7h.west) .. controls +(-343,-57) and +(150,-87) .. ([xshift=6pt]c4z.north east);
\ED{c5h}{c4z}
\draw[e] ([xshift=25pt]c5i.north west) to[out=170,in=-10] (c4z.south east);
\draw[e] (c5j.west) to[out=180,in=-30] ([xshift=8pt]c4z.south east);
\ED{c5k}{c4C}
\draw[e] ([yshift=10pt]c5l.west) -- ([xshift=-10pt]c4F.south east);
% back edge: participants -> parseSubscriberTable
\draw[e] ([yshift=4pt]c4z.east) .. controls +(379,-75) and +(-55,-94) .. ([xshift=5pt]c6s.north west);
% ===== into column 5
\ED{c6a}{c5a}
\draw[e] (c6b.west) .. controls +(-40,0) and +(15,-190) .. ([xshift=-22pt]c5g.north east);
\draw[e] (c6c.west) .. controls +(-40,0) and +(15,-170) .. ([xshift=-19pt]c5g.north east);
\draw[e] (c6d.west) .. controls +(-40,0) and +(15,-150) .. ([xshift=-16pt]c5g.north east);
\draw[e] (c6e.west) .. controls +(-40,0) and +(15,-130) .. ([xshift=-13pt]c5g.north east);
\draw[e] (c6f.west) .. controls +(-40,0) and +(15,-115) .. ([xshift=-10pt]c5g.north east);
\draw[e] (c6g.west) .. controls +(-40,0) and +(15,-95) .. ([xshift=-7pt]c5g.north east);
\draw[e] (c6h.west) .. controls +(-40,0) and +(15,-65) .. ([xshift=-4pt]c5g.north east);
\draw[e] (c6i.west) .. controls +(-40,0) and +(15,-50) .. ([xshift=-1pt]c5g.north east);
\draw[e] (c6j.west) .. controls +(-40,0) and +(15,-35) .. ([xshift=2pt]c5g.north east);
\draw[e] (c6k.south west) -- ([xshift=-2pt]c5g.north east);
\draw[e] ([yshift=-5pt]c7c.north west) .. controls +(-369,-31) and +(30,-106) .. ([xshift=-25pt]c5g.north east);
\ED{c6l}{c5g}
\draw[e] ([yshift=-12pt]c7e.west) .. controls +(-250,10) and +(120,10) .. ([xshift=-26pt]c5g.south east);
\draw[e] ([xshift=50pt]c6m.north west) to[out=170,in=-25] ([xshift=-22pt]c5g.south east);
\draw[e] (c6n.west) .. controls +(-35,0) and +(20,57) .. ([xshift=-18pt]c5g.south east);
\draw[e] (c6o.west) .. controls +(-35,0) and +(20,72) .. ([xshift=-14pt]c5g.south east);
\draw[e] (c6p.west) .. controls +(-35,0) and +(20,88) .. ([xshift=-10pt]c5g.south east);
\draw[e] (c6q.west) .. controls +(-35,0) and +(20,105) .. ([xshift=-6pt]c5g.south east);
\draw[e] (c6r.west) .. controls +(-35,0) and +(20,125) .. ([xshift=-2pt]c5g.south east);
\draw[e] (c6s.west) .. controls +(-35,0) and +(20,145) .. ([xshift=2pt]c5g.south east);
\draw[e] ([xshift=8pt]c6t.south west) to[out=195,in=15] ([xshift=-30pt]c5l.north east);
\draw[e] ([yshift=-9pt]c6u.west) -- ([yshift=9pt]c5l.east);
\draw[e] ([yshift=9pt]c6v.west) -- ([yshift=-8pt]c5l.east);
\draw[e] ([xshift=-16pt]c6w.north) -- ([xshift=-39pt]c5l.south east);
\draw[e] ([xshift=-4pt]c6x.north) -- ([xshift=5pt]c5l.south);
% ===== into column 6
\draw[e] ([yshift=-9pt]c7a.west) -- ([yshift=8pt]c6a.east);
\draw[e] ([yshift=9pt]c7b.west) -- ([yshift=-8pt]c6a.east);
\draw[e] ([yshift=-12pt]c7c.west) -- ([xshift=-5pt]c6h.north east);
\ED{c7d}{c6i}
\draw[e] ([xshift=5pt]c7e.south west) to[out=190,in=15] ([xshift=-58pt]c6m.north east);
\draw[e] ([yshift=-12pt]c7f.west) -- ([yshift=10pt]c6m.east);
\draw[e] ([yshift=12pt]c7g.west) -- ([yshift=-10pt]c6m.east);
\draw[e] ([xshift=30pt]c7h.north west) -- ([xshift=-58pt]c6m.south east);
\draw[e] (c7i.south west) to[out=200,in=40] ([xshift=-5pt]c6t.north east);
\draw[e] ([yshift=-5pt]c7j.west) .. controls +(-60,12) and +(54,-42) .. (c6v.north east);
\draw[e] ([yshift=-10pt]c7k.west) .. controls +(-60,10) and +(80,-90) .. ([xshift=16pt]c6w.north);
\draw[e] ([yshift=-15pt]c7l.west) .. controls +(-40,15) and +(90,-60) .. ([xshift=14pt]c6w.north);
\draw[e] ([yshift=-16pt]c7m.west) to[out=190,in=30] ([xshift=20pt]c6w.north);
\draw[e] ([xshift=10pt]c7n.south west) -- ([xshift=33pt]c6w.north);
\draw[e] ([xshift=40pt]c7o.south west) -- ([xshift=-20pt]c6w.north east);
\ED{c7p}{c6w}
\draw[e] (c7q.west) -- ([xshift=-15pt]c6w.south east);
\draw[e] ([yshift=-2pt]c7r.north west) .. controls +(-150,-20) and +(60,30) .. ([xshift=29pt]c6w.south);
\draw[e] (c7s.west) to[out=170,in=-30] ([xshift=20pt]c6w.south);
\draw[e] (c7t.west) to[out=170,in=-40] ([xshift=12pt]c6w.south);
\draw[e] (c7u.west) to[out=165,in=-50] ([xshift=8pt]c6w.south);
\draw[e] (c7v.west) to[out=160,in=-60] ([xshift=4pt]c6w.south);
\draw[e] ([yshift=-12pt]c7w.west) to[out=190,in=45] ([xshift=12pt]c6x.north);
\draw[e] ([xshift=20pt]c7x.south west) to[out=195,in=30] ([xshift=22pt]c6x.north);
\draw[e] ([xshift=30pt]c7y.south west) -- ([xshift=-45pt]c6x.north east);
\draw[e] (c7z.west) -- ([yshift=5pt]c6x.east);
\draw[e] ([yshift=13pt]c7A.west) -- ([yshift=-5pt]c6x.east);
\draw[e] ([xshift=10pt]c7B.north west) -- ([xshift=-48pt]c6x.south east);
\draw[e] (c7C.west) to[out=170,in=-30] ([xshift=15pt]c6x.south);
\draw[e] (c7D.west) to[out=170,in=-45] ([xshift=9pt]c6x.south);
\draw[e] (c7E.west) to[out=165,in=-55] ([xshift=4pt]c6x.south);
% ===== into column 7 / 8
\draw[e] ([yshift=8pt]c8a.west) -- ([yshift=-9pt]c7a.east);
\draw[e] ([yshift=-8pt]c8a.west) -- ([yshift=10pt]c7b.east);
\ED{c8b}{c7j}
\ED{c8c}{c7k}
\ED{c8d}{c7t}
\ED{c8e}{c7u}
\ED{c8f}{c7v}
\ED{c8g}{c7w}
\ED{c8h}{c7E}
\ED{c9a}{c8d}
\end{pgfonlayer}
\end{tikzpicture}
\end{document}
